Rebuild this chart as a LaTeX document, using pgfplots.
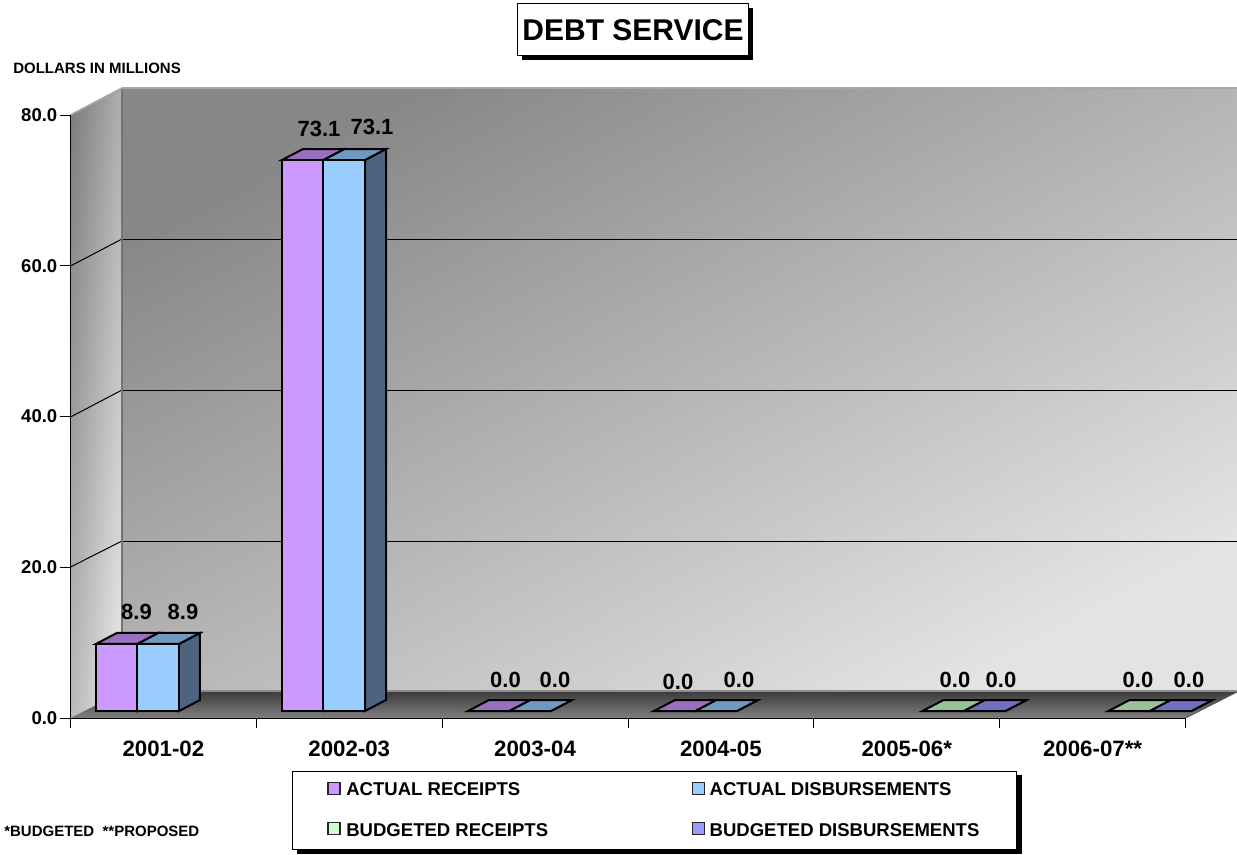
\documentclass[border=0pt]{standalone}
\usepackage{pgfplots}
\pgfplotsset{compat=1.18}
\usepackage{fontspec}
\setmainfont{Liberation Sans}
\usetikzlibrary{shadows}
\newlength\px
\setlength\px{0.75pt}

% Picture positions are given in px and converted to axis units
\newcommand\Poly[9]{%
  \pgfmathsetmacro\xa{(#2-70.5)/185.8333}\pgfmathsetmacro\ya{(718-#3)/7.5375}%
  \pgfmathsetmacro\xb{(#4-70.5)/185.8333}\pgfmathsetmacro\yb{(718-#5)/7.5375}%
  \pgfmathsetmacro\xc{(#6-70.5)/185.8333}\pgfmathsetmacro\yc{(718-#7)/7.5375}%
  \pgfmathsetmacro\xd{(#8-70.5)/185.8333}\pgfmathsetmacro\yd{(718-#9)/7.5375}%
  \addplot[forget plot,draw=none,#1] coordinates {(\xa,\ya)(\xb,\yb)(\xc,\yc)(\xd,\yd)} -- cycle;%
}
\newcommand\Seg[5]{\SegB{black,line width=1\px}{#1}{#2}{#3}{#4}{#5}}
\newcommand\SegB[6]{%
  \pgfmathsetmacro\xa{(#3-70.5)/185.8333}\pgfmathsetmacro\ya{(718-#4)/7.5375}%
  \pgfmathsetmacro\xb{(#5-70.5)/185.8333}\pgfmathsetmacro\yb{(718-#6)/7.5375}%
  \addplot[forget plot,#1,#2] coordinates {(\xa,\ya)(\xb,\yb)};%
}
% Top and side faces of one bar: left edge in px, value, then the two face colours
\newcommand\BarDepth[4]{%
  \pgfmathsetmacro\xl{(#1-70.5)/185.8333}%
  \pgfmathsetmacro\xr{\xl+41.5/185.8333}%
  \pgfmathsetmacro\xld{\xl+21/185.8333}%
  \pgfmathsetmacro\xrd{\xr+21/185.8333}%
  \pgfmathsetmacro\vtop{#2+11/7.5375}%
  \pgfmathsetmacro\vbase{11/7.5375}%
  \addplot[forget plot,yshift=7\px,draw=black,line width=2\px,line join=miter,fill=#4]
    coordinates {(\xr,0)(\xrd,\vbase)(\xrd,\vtop)(\xr,#2)} -- cycle;%
  \addplot[forget plot,yshift=7\px,draw=black,line width=2\px,line join=miter,fill=#3]
    coordinates {(\xl,#2)(\xr,#2)(\xrd,\vtop)(\xld,\vtop)} -- cycle;%
}
\newcommand\ValLabel[3]{%
  \pgfmathsetmacro\xa{(#1-70.5)/185.8333}\pgfmathsetmacro\ya{(718-#2)/7.5375}%
  \edef\tmpnode{\noexpand\node[font=\noexpand\fontsize{16.5}{18}\noexpand\selectfont\noexpand\bfseries,inner sep=0pt]
    at (axis cs:\xa,\ya) {#3};}\tmpnode
}

\definecolor{cAR}{HTML}{CC99FF}
\definecolor{cAD}{HTML}{99CCFF}
\definecolor{cBR}{HTML}{CCFFCC}
\definecolor{cBD}{HTML}{9999FF}
\definecolor{tAR}{HTML}{9970BF}
\definecolor{tAD}{HTML}{6F99C0}
\definecolor{tBR}{HTML}{99C299}
\definecolor{tBD}{HTML}{7070C0}
\definecolor{sAD}{HTML}{4D6380}

\pgfplotstableread{
x     actualreceipts actualdisb
0.3605 8.9 8.9
1.3605 73.1 73.1
2.3605 0.0 0.0
3.3605 0.0 0.0
}\actualdata
\pgfplotstableread{
x     budgetreceipts budgetdisb
4.808 0.0 0.0
5.809 0.0 0.0
}\budgetdata

\begin{document}
\begin{tikzpicture}
\path[use as bounding box] (-52.875pt,-102pt) rectangle (874.875pt,538.5pt);
\begin{axis}[
  scale only axis,
  width=1115\px,
  height=603\px,
  xmin=0,xmax=6,ymin=0,ymax=80,
  clip=false,
  axis on top,
  axis x line*=bottom,
  axis y line*=left,
  axis line style={black,line width=1\px,-},
  tick style={black,line width=1\px},
  tick align=outside,
  major tick length=10\px,
  xtick={0,1,2,3,4,5,6},
  x tick label as interval,
  xticklabels={2001-02,2002-03,2003-04,2004-05,2005-06*,2006-07**},
  x tick label style={font=\fontsize{16.7}{18}\selectfont\bfseries,yshift=-8\px},
  ytick={0,20,40,60,80},
  y tick label style={font=\fontsize{13.9}{16}\selectfont\bfseries,xshift=1.5\px},
  yticklabel style={/pgf/number format/assume math mode=true,/pgf/number format/fixed,/pgf/number format/fixed zerofill,/pgf/number format/precision=1},
  scaled y ticks=false,
  title={DEBT SERVICE},
  title style={at={(0.5045,1.1277)},anchor=center,font=\fontsize{22.5}{24}\selectfont\bfseries,
    draw=black,line width=1\px,fill=white,minimum width=231\px,minimum height=52\px,inner sep=0pt,
    general shadow={fill=black,shadow xshift=4\px,shadow yshift=-4\px}},
  legend columns=2,
  legend cell align=left,
  legend image code/.code={\draw[draw=black!85,line width=1.1pt,#1] (0pt,-8.25pt) rectangle (9pt,0.75pt);},
  legend style={at={(0.1987,-0.0879)},anchor=north west,draw=black,line width=0.75pt,fill=white,
    font=\fontsize{13.9}{16}\selectfont\bfseries,inner xsep=26pt,inner ysep=6.5pt,row sep=15pt},
]
% Box walls and floor
\Poly{top color=black!47,bottom color=black!11,shading angle=28}{122}{88}{1237}{88}{1237}{692}{122}{692}
\Poly{top color=black!50,bottom color=black!9,shading angle=84.5}{70.5}{115}{122}{88}{122}{692}{70.5}{718}
\Poly{top color=black!76,bottom color=black!50}{70.5}{718}{1185.5}{718}{1237}{692}{122}{692}
% Grid lines on the back and side walls
\Seg{}{122}{541}{1237}{541}
\Seg{}{122}{390}{1237}{390}
\Seg{}{122}{239}{1237}{239}
\Seg{}{70.5}{567}{122}{541}
\Seg{}{70.5}{417}{122}{390}
\Seg{}{70.5}{266}{122}{239}
\SegB{black!55,line width=1.6\px}{}{122}{88}{122}{692}
\SegB{black!35,line width=1.6\px}{}{70.5}{115}{122}{88}
\SegB{black!35,line width=1.6\px}{}{122}{88}{1237}{88}
\SegB{black!45,line width=1.6\px}{}{122}{691}{1237}{691}
\SegB{black!65,line width=1\px}{}{1185.5}{718}{1237}{692}
% Shadow behind the legend box
\Poly{fill=black}{296.5}{775}{1021.5}{775}{1021.5}{853.5}{296.5}{853.5}
% Receding faces of the bars
\BarDepth{96}{8.9}{tAR}{sAD}
\BarDepth{137.5}{8.9}{tAD}{sAD}
\BarDepth{282}{73.1}{tAR}{sAD}
\BarDepth{323.5}{73.1}{tAD}{sAD}
\BarDepth{468}{0.0}{tAR}{sAD}
\BarDepth{509.5}{0.0}{tAD}{sAD}
\BarDepth{654}{0.0}{tAR}{sAD}
\BarDepth{695.5}{0.0}{tAD}{sAD}
\BarDepth{922.5}{0.0}{tBR}{tBD}
\BarDepth{964}{0.0}{tBD}{tBD}
\BarDepth{1108.5}{0.0}{tBR}{tBD}
\BarDepth{1150}{0.0}{tBD}{tBD}
% Front faces of the bars
\addplot[ybar,bar width=41.5\px,/pgf/bar shift=-20.75\px,yshift=7\px,draw=black,line width=2\px,fill=cAR] table[x=x,y=actualreceipts] {\actualdata};
\addlegendentry{\makebox[346\px][l]{\kern3\px\relax ACTUAL RECEIPTS}}
\addplot[ybar,bar width=41.5\px,/pgf/bar shift=20.75\px,yshift=7\px,draw=black,line width=2\px,fill=cAD] table[x=x,y=actualdisb] {\actualdata};
\addlegendentry{\makebox[271\px][l]{\kern1.5\px\relax ACTUAL DISBURSEMENTS}}
\addplot[ybar,bar width=41.5\px,/pgf/bar shift=-20.75\px,yshift=7\px,draw=black,line width=2\px,fill=cBR] table[x=x,y=budgetreceipts] {\budgetdata};
\addlegendentry{\makebox[346\px][l]{\kern3\px\relax BUDGETED RECEIPTS}}
\addplot[ybar,bar width=41.5\px,/pgf/bar shift=20.75\px,yshift=7\px,draw=black,line width=2\px,fill=cBD] table[x=x,y=budgetdisb] {\budgetdata};
\addlegendentry{\makebox[271\px][l]{\kern1.5\px\relax BUDGETED DISBURSEMENTS}}
% Value labels
\ValLabel{136.5}{612}{8.9}
\ValLabel{183}{612}{8.9}
\ValLabel{319}{129}{73.1}
\ValLabel{372}{127}{73.1}
\ValLabel{505.5}{680}{0.0}
\ValLabel{555}{680}{0.0}
\ValLabel{678}{681.5}{0.0}
\ValLabel{739}{680}{0.0}
\ValLabel{955}{680}{0.0}
\ValLabel{1001}{680}{0.0}
\ValLabel{1138}{680}{0.0}
\ValLabel{1189}{680}{0.0}
\end{axis}
% Notes outside the plot box
\node[anchor=west,inner sep=0pt,font=\fontsize{11.25}{13}\selectfont\bfseries] at (-57.5\px,650\px) {DOLLARS IN MILLIONS};
\node[anchor=west,inner sep=0pt,font=\fontsize{11.25}{13}\selectfont\bfseries] at (-66.5\px,-113\px) {*BUDGETED\ \ **PROPOSED};
\end{tikzpicture}
\end{document}
